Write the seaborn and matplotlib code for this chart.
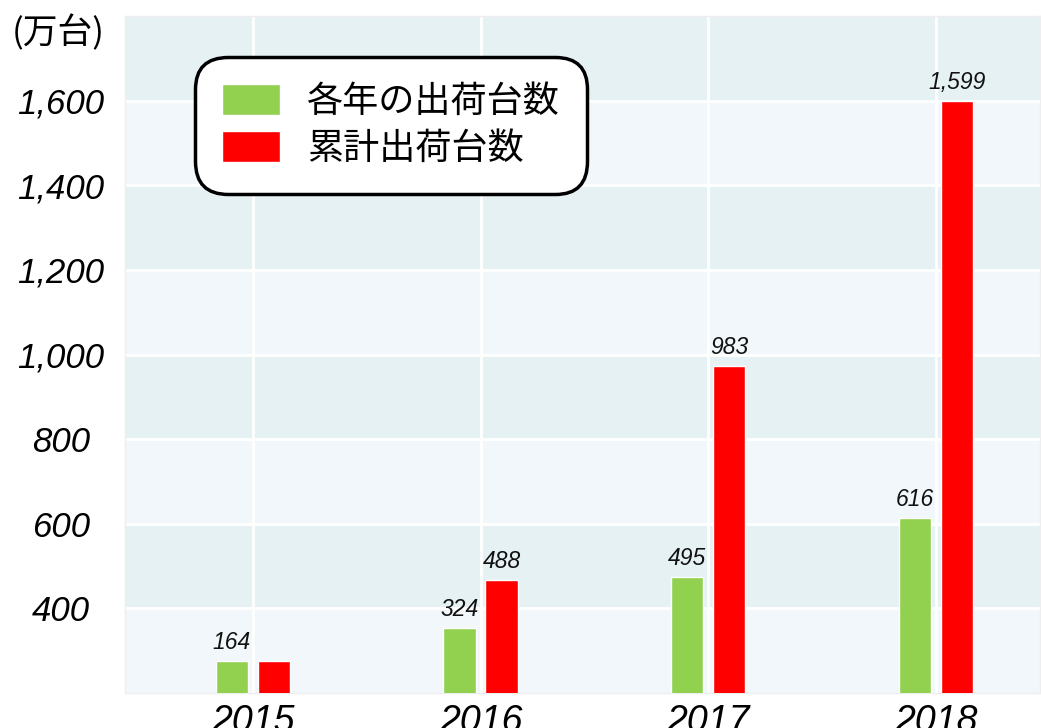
import seaborn as sns
import matplotlib.pyplot as plt
import pandas as pd

years = ['2015', '2016', '2017', '2018']
yearly = [275, 353, 475, 614]
cumulative = [275, 467, 974, 1600]
yearly_text = ['164', '324', '495', '616']
cumulative_text = ['', '488', '983', '1,599']
series = ['各年の出荷台数', '累計出荷台数']
yticks = [400, 600, 800, 1000, 1200, 1400, 1600]
ytick_text = ['400', '600', '800', '1,000', '1,200', '1,400', '1,600']

df = pd.DataFrame({
    'year': years * 2,
    'value': yearly + cumulative,
    'series': [series[0]] * 4 + [series[1]] * 4,
})

sns.set_style('white')
plt.rcParams['font.family'] = ['Liberation Sans', 'Noto Sans CJK JP', 'DejaVu Sans']
plt.rcParams['text.color'] = 'black'
plt.rcParams['xtick.color'] = 'black'
plt.rcParams['ytick.color'] = 'black'

fig = plt.figure(figsize=(10.41, 7.28), dpi=100)
ax = fig.add_axes([0.120, 0.048, 0.879, 0.930])

# alternating background bands
band_cols = ['#f1f7fa', '#e6f1f4']
for i, lo in enumerate(range(200, 1800, 200)):
    ax.axhspan(lo, lo + 200, color=band_cols[i % 2], zorder=0, lw=0)

sns.barplot(data=df, x='year', y='value', hue='series',
            palette=['#92d050', '#ff0000'], width=0.368, gap=0.23,
            saturation=1, ax=ax, zorder=3)

ax.set_ylim(200, 1800)
ax.set_xlim(-0.562, 3.457)
ax.set_yticks(yticks)
ax.set_yticklabels(ytick_text, fontsize=25, fontstyle='italic', ha='center')
ax.tick_params(axis='y', length=0, pad=46)
ax.tick_params(axis='x', length=0, pad=8, labelsize=27)
for t in ax.get_xticklabels():
    t.set_fontstyle('italic')
ax.set_xlabel('')
ax.set_ylabel('')
ax.grid(True, color='white', lw=2, zorder=1)
ax.set_axisbelow(True)
for s in ax.spines.values():
    s.set_color('#eeeeee')
    s.set_linewidth(1)

for cont, txt in zip(ax.containers, [yearly_text, cumulative_text]):
    ax.bar_label(cont, labels=txt, padding=5, fontsize=16.5, fontstyle='italic',
                 color='#111111')

handles, labels = ax.get_legend_handles_labels()
leg = ax.legend(handles, labels, loc='upper left', bbox_to_anchor=(0.077, 0.94),
                handlelength=1.6, handleheight=0.95,
                handletextpad=0.75, labelspacing=0.3, borderpad=0.75,
                borderaxespad=0, frameon=True, fancybox=True,
                prop={'family': ['Noto Sans CJK JP'], 'size': 26})
leg.get_frame().set_edgecolor('black')
leg.get_frame().set_linewidth(2.5)
leg.get_frame().set_facecolor('white')
leg.get_frame().set_alpha(1)
leg.get_frame().set_boxstyle('round,pad=0.0,rounding_size=0.9')
leg.set_zorder(5)

fig.text(0.056, 0.954, '(万台)', fontsize=25, ha='center', va='center',
         family=['Noto Sans CJK JP'])

fig.savefig('out.png', dpi=100)
